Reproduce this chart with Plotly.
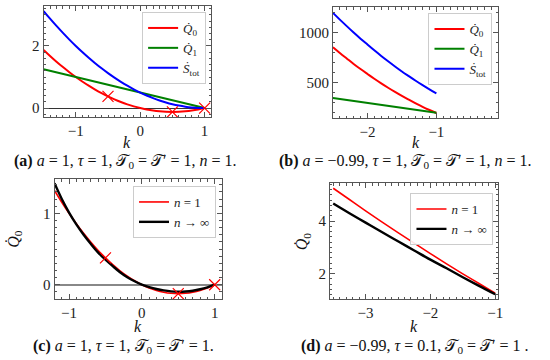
import plotly.graph_objects as go

# ---------------- data ----------------
# panel (a): a=1, tau=1, n=1
k_a = [-1.5, -1.4, -1.3, -1.2, -1.1, -1.0, -0.9, -0.8, -0.7, -0.6, -0.5, -0.4, -0.3,
       -0.2, -0.1, 0.0, 0.1, 0.2, 0.3, 0.4, 0.5, 0.6, 0.7, 0.8, 0.9, 1.0]
Q0_a = [1.875, 1.68, 1.495, 1.32, 1.155, 1.0, 0.855, 0.72, 0.595, 0.48, 0.375, 0.28, 0.195,
        0.12, 0.055, 0.0, -0.045, -0.08, -0.105, -0.12, -0.125, -0.12, -0.105, -0.08, -0.045, 0.0]
Q1_a = [1.25, 1.2, 1.15, 1.1, 1.05, 1.0, 0.95, 0.9, 0.85, 0.8, 0.75, 0.7, 0.65,
        0.6, 0.55, 0.5, 0.45, 0.4, 0.35, 0.3, 0.25, 0.2, 0.15, 0.1, 0.05, 0.0]
S_a = [3.125, 2.88, 2.645, 2.42, 2.205, 2.0, 1.805, 1.62, 1.445, 1.28, 1.125, 0.98, 0.845,
       0.72, 0.605, 0.5, 0.405, 0.32, 0.245, 0.18, 0.125, 0.08, 0.045, 0.02, 0.005, 0.0]
k_mark = [-0.5, 0.5, 1.0]
Q0_mark = [0.375, -0.125, 0.0]

# panel (b): a=-0.99
k_b = [-2.5, -2.4, -2.3, -2.2, -2.1, -2.0, -1.9, -1.8, -1.7, -1.6, -1.5, -1.4, -1.3, -1.2, -1.1, -1.0]
Q0_b = [851, 794, 739, 684, 633, 584, 536, 490, 446, 404, 364, 327, 291, 256, 224, 194]
Q1_b = [343, 333, 323, 314, 304, 294, 284, 274, 265, 255, 245, 235, 225, 216, 206, 196]
S_b = [1194, 1127, 1062, 998, 937, 878, 820, 764, 711, 659, 609, 562, 516, 472, 430, 390]

# panel (c): a=1, tau=1
k_c = [-1.2, -1.1, -1.0, -0.9, -0.8, -0.7, -0.6, -0.5, -0.4, -0.3, -0.2, -0.1, 0.0,
       0.1, 0.2, 0.3, 0.4, 0.5, 0.6, 0.7, 0.8, 0.9, 1.0]
Q0_c_n1 = [1.32, 1.155, 1.0, 0.855, 0.72, 0.595, 0.48, 0.375, 0.28, 0.195, 0.12, 0.055, 0.0,
           -0.045, -0.08, -0.105, -0.12, -0.125, -0.12, -0.105, -0.08, -0.045, 0.0]
Q0_c_inf = [1.42, 1.20, 1.01, 0.845, 0.70, 0.57, 0.45, 0.35, 0.26, 0.175, 0.105, 0.048, 0.0,
            -0.033, -0.06, -0.08, -0.093, -0.098, -0.095, -0.084, -0.064, -0.036, 0.0]

# panel (d): a=-0.99, tau=0.1
k_d = [-3.5, -3.25, -3.0, -2.75, -2.5, -2.25, -2.0, -1.75, -1.5, -1.25, -1.0]
Q0_d_n1 = [5.25, 4.82, 4.39, 3.97, 3.56, 3.16, 2.76, 2.37, 1.99, 1.62, 1.25]
Q0_d_inf = [4.67, 4.30, 3.94, 3.58, 3.23, 2.88, 2.53, 2.20, 1.86, 1.53, 1.21]

# ---------------- figure ----------------
W, H = 550, 360
SERIF = "Liberation Serif, DejaVu Serif, serif"
RED, GREEN, BLUE = "#ff0000", "#008000", "#0000ff"

def px_x(p):
    return p / W

def px_y(p):
    return 1 - p / H

fig = go.Figure()

Q0 = "<i>Q̇</i><sub>0</sub>"
Q1 = "<i>Q̇</i><sub>1</sub>"
ST = "<i>Ṡ</i><sub>tot</sub>"
MK = dict(symbol="x-thin-open", size=11, color=RED, line=dict(color=RED, width=1.2))

# (a)
fig.add_trace(go.Scatter(x=k_a, y=Q0_a, mode="lines", line=dict(color=RED, width=2, shape="spline"),
                         name=Q0, xaxis="x", yaxis="y", legend="legend"))
fig.add_trace(go.Scatter(x=k_a, y=Q1_a, mode="lines", line=dict(color=GREEN, width=2),
                         name=Q1, xaxis="x", yaxis="y", legend="legend"))
fig.add_trace(go.Scatter(x=k_a, y=S_a, mode="lines", line=dict(color=BLUE, width=2, shape="spline"),
                         name=ST, xaxis="x", yaxis="y", legend="legend"))
fig.add_trace(go.Scatter(x=k_mark, y=Q0_mark, mode="markers", marker=MK,
                         showlegend=False, xaxis="x", yaxis="y"))
# (b)
fig.add_trace(go.Scatter(x=k_b, y=Q0_b, mode="lines", line=dict(color=RED, width=2, shape="spline"),
                         name=Q0, xaxis="x2", yaxis="y2", legend="legend2"))
fig.add_trace(go.Scatter(x=k_b, y=Q1_b, mode="lines", line=dict(color=GREEN, width=2),
                         name=Q1, xaxis="x2", yaxis="y2", legend="legend2"))
fig.add_trace(go.Scatter(x=k_b, y=S_b, mode="lines", line=dict(color=BLUE, width=2, shape="spline"),
                         name=ST, xaxis="x2", yaxis="y2", legend="legend2"))
# (c)
fig.add_trace(go.Scatter(x=k_c, y=Q0_c_n1, mode="lines", line=dict(color=RED, width=1.6, shape="spline"),
                         name="<i>n</i> = 1", xaxis="x3", yaxis="y3", legend="legend3"))
fig.add_trace(go.Scatter(x=k_c, y=Q0_c_inf, mode="lines", line=dict(color="black", width=2.4, shape="spline"),
                         name="<i>n</i> → ∞", xaxis="x3", yaxis="y3", legend="legend3"))
fig.add_trace(go.Scatter(x=k_mark, y=Q0_mark, mode="markers", marker=MK,
                         showlegend=False, xaxis="x3", yaxis="y3"))
# (d)
fig.add_trace(go.Scatter(x=k_d, y=Q0_d_n1, mode="lines", line=dict(color=RED, width=1.6, shape="spline"),
                         name="<i>n</i> = 1", xaxis="x4", yaxis="y4", legend="legend4"))
fig.add_trace(go.Scatter(x=k_d, y=Q0_d_inf, mode="lines", line=dict(color="black", width=2.4, shape="spline"),
                         name="<i>n</i> → ∞", xaxis="x4", yaxis="y4", legend="legend4"))

AXC = "#555555"

def ax(domain, rng, dtick, mdtick, anchor, zeroline=False, zc="#333", zw=1):
    return dict(domain=domain, range=rng, dtick=dtick, tick0=0, anchor=anchor,
                ticks="inside", ticklen=5, tickwidth=1, tickcolor=AXC,
                minor=dict(ticks="inside", ticklen=2.5, tickwidth=0.8, tickcolor=AXC, dtick=mdtick, tick0=0),
                showline=True, linecolor=AXC, linewidth=1, mirror="allticks",
                showgrid=False, zeroline=zeroline, zerolinecolor=zc, zerolinewidth=zw,
                tickfont=dict(family=SERIF, size=15, color="#222"), fixedrange=True)

fig.update_layout(
    width=W, height=H, margin=dict(l=0, r=0, t=0, b=0),
    paper_bgcolor="white", plot_bgcolor="white",
    xaxis=ax([px_x(44), px_x(213)], [-1.5, 1.1], 1, 0.1, "y"),
    yaxis=ax([px_y(117), px_y(6)], [-0.2875, 3.2875], 2, 0.2, "x", True, "#333", 1),
    xaxis2=ax([px_x(336), px_x(503)], [-2.5, -0.1], 1, 0.1, "y2"),
    yaxis2=ax([px_y(118), px_y(7)], [144, 1253], 500, 100, "x2"),
    xaxis3=ax([px_x(55), px_x(224)], [-1.2, 1.1], 1, 0.1, "y3"),
    yaxis3=ax([px_y(299), px_y(179)], [-0.2, 1.48], 1, 0.1, "x3", True, "#888", 2),
    xaxis4=ax([px_x(333), px_x(503)], [-3.55, -0.95], 1, 0.1, "y4"),
    yaxis4=ax([px_y(299), px_y(183)], [1.03, 5.45], 2, 0.2, "x4"),
)

def leg(x, y):
    return dict(x=x, y=y, xanchor="right", yanchor="top", bgcolor="rgba(255,255,255,0.9)",
                bordercolor="#cccccc", borderwidth=1, font=dict(family=SERIF, size=13, color="#222"),
                tracegroupgap=0, itemwidth=30)

fig.update_layout(legend=leg(px_x(208), px_y(12)), legend2=leg(px_x(497), px_y(13)),
                  legend3=leg(px_x(218), px_y(186)), legend4=leg(px_x(498), px_y(193)))

ann = []
def text(x, y, t, size=14, angle=0):
    ann.append(dict(x=px_x(x), y=px_y(y), xref="paper", yref="paper", text=t, showarrow=False,
                    font=dict(family=SERIF, size=size, color="#111"), textangle=angle,
                    xanchor="center", yanchor="middle"))

text(128.5, 142.5, "<i>k</i>", 16)
text(419.5, 142.5, "<i>k</i>", 16)
text(139.5, 326, "<i>k</i>", 16)
text(418, 326, "<i>k</i>", 16)
text(14, 239, Q0, 16, -90)
text(306, 241, Q0, 16, -90)

T = "𝒯"
text(127, 161, f"<b>(a)</b> <i>a</i> = 1, <i>τ</i> = 1, {T}<sub>0</sub> = {T}′ = 1, <i>n</i> = 1.", 16)
text(409, 161, f"<b>(b)</b> <i>a</i> = −0.99, <i>τ</i> = 1, {T}<sub>0</sub> = {T}′ = 1, <i>n</i> = 1.", 16)
text(124.5, 346, f"<b>(c)</b> <i>a</i> = 1, <i>τ</i> = 1, {T}<sub>0</sub> = {T}′ = 1.", 16)
text(419, 346, f"<b>(d)</b> <i>a</i> = −0.99, <i>τ</i> = 0.1, {T}<sub>0</sub> = {T}′ = 1 .", 16)
fig.update_layout(annotations=ann)

fig.write_html("out.html", config={"displayModeBar": False},
               post_script="document.body.style.margin='0px';document.body.style.overflow='hidden';")
